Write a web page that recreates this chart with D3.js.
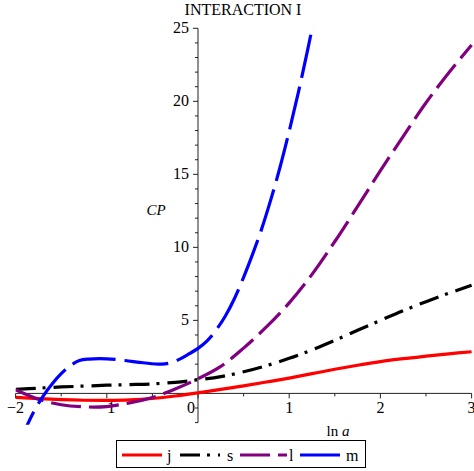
<!DOCTYPE html>
<html><head><meta charset="utf-8">
<script src="https://cdn.jsdelivr.net/npm/d3@7"></script>
<style>body{margin:0;background:#fff}svg{display:block}</style>
</head><body>
<script>
// ---- data ----
const title = "INTERACTION I";
const xs = [-2,-1.75,-1.5,-1.25,-1,-0.75,-0.5,-0.25,0,0.25,0.5,0.75,1,1.25,1.5,1.75,2,2.25,2.5,2.75,3];
const jVals = [-0.27,-0.36,-0.43,-0.47,-0.48,-0.45,-0.35,-0.18,0.04,0.27,0.52,0.78,1.05,1.35,1.65,1.93,2.18,2.38,2.55,2.71,2.85];
const sVals = [0.27,0.36,0.44,0.5,0.56,0.6,0.65,0.76,0.93,1.15,1.48,1.9,2.4,2.98,3.63,4.32,5.0,5.66,6.28,6.86,7.4];
const lVals = [0.25,-0.4,-0.78,-0.92,-0.9,-0.65,-0.28,0.3,1.0,1.85,3.1,4.55,6.2,8.15,10.4,12.8,15.25,17.6,19.9,21.95,23.85];
const mX = [-2,-1.9,-1.8,-1.7,-1.6,-1.5,-1.4,-1.3,-1.2,-1.0,-0.8,-0.6,-0.4,-0.3,-0.2,-0.1,0,0.1,0.2,0.3,0.4,0.5,0.6,0.7,0.8,0.9,1.0,1.1,1.2,1.3];
const mVals = [-4.0,-2.55,-1.25,-0.2,0.65,1.35,1.9,2.25,2.35,2.37,2.25,2.1,2.0,2.1,2.35,2.7,3.08,3.6,4.35,5.3,6.5,7.95,9.55,11.3,13.3,15.5,17.95,20.6,23.45,26.5];
const xTicks = [-2,-1,0,1,2,3];
const yTicks = [5,10,15,20,25];
const legendNames = ["j","s","l","m"];
const colors = ["#ff0000","#000000","#800080","#0000ff"];
const dashes = [null,"20,7,3,8","30,8","44,9"];

const W = 474, H = 471;
const FONT = "'Liberation Serif','Times New Roman',serif";
const svg = d3.select("body").append("svg").attr("width",W).attr("height",H);
const x = d3.scaleLinear().domain([-2,3]).range([15.6,471.6]);
const y = d3.scaleLinear().domain([-2,25]).range([422.6,28.3]);

// clip
svg.append("clipPath").attr("id","clip").append("rect")
  .attr("x",x(-2)).attr("y",y(25.15)).attr("width",x(3)-x(-2)+2).attr("height",y(-2.15)-y(25.15));

// axes
const axisColor = "#222";
const gx = svg.append("g");
gx.append("line").attr("x1",x(-2)).attr("x2",x(3)).attr("y1",y(0)).attr("y2",y(0)).attr("stroke",axisColor);
d3.range(-2,3.01,0.5).forEach(v=>{
  const major = Math.abs(v-Math.round(v))<1e-9;
  gx.append("line").attr("x1",x(v)).attr("x2",x(v)).attr("y1",y(0)).attr("y2",y(0)+(major?5:3)).attr("stroke",axisColor);
});
xTicks.forEach(v=>{
  gx.append("text").attr("x", v===0 ? x(0)-7 : x(v)).attr("y",y(0)+20)
    .attr("text-anchor","middle").attr("font-family",FONT).attr("font-size",16)
    .text(v<0 ? "\u2212"+Math.abs(v) : String(v));
});
const gy = svg.append("g");
gy.append("line").attr("x1",x(0)).attr("x2",x(0)).attr("y1",y(-2)).attr("y2",y(25)).attr("stroke",axisColor);
d3.range(-2,25.01,1).forEach(v=>{
  if (v===0) return;
  const major = v%5===0;
  gy.append("line").attr("x1",x(0)).attr("x2",x(0)-(major?5:3)).attr("y1",y(v)).attr("y2",y(v)).attr("stroke",axisColor);
});
yTicks.forEach(v=>{
  gy.append("text").attr("x",x(0)-9).attr("y",y(v)+5).attr("text-anchor","end")
    .attr("font-family",FONT).attr("font-size",16).text(v);
});

// title and labels
svg.append("text").attr("x",243).attr("y",15).attr("text-anchor","middle")
  .attr("font-family",FONT).attr("font-size",16).text(title);
svg.append("text").attr("x",156).attr("y",215).attr("text-anchor","middle")
  .attr("font-family",FONT).attr("font-size",15).attr("font-style","italic").text("CP");
const xl = svg.append("text").attr("x",338).attr("y",436).attr("text-anchor","middle")
  .attr("font-family",FONT).attr("font-size",15);
xl.append("tspan").text("ln ");
xl.append("tspan").attr("font-style","italic").text("a");

// curves
const line = d3.line().x(d=>x(d[0])).y(d=>y(d[1])).curve(d3.curveCatmullRom.alpha(0.5));
const series = [
  xs.map((v,i)=>[v,jVals[i]]),
  xs.map((v,i)=>[v,sVals[i]]),
  xs.map((v,i)=>[v,lVals[i]]),
  mX.map((v,i)=>[v,mVals[i]])
];
const gc = svg.append("g").attr("clip-path","url(#clip)");
series.forEach((s,i)=>{
  const p = gc.append("path").attr("d",line(s)).attr("fill","none")
    .attr("stroke",colors[i]).attr("stroke-width",3.2);
  if (dashes[i]) p.attr("stroke-dasharray",dashes[i]);
});

// legend
const lg = svg.append("g");
lg.append("rect").attr("x",116.5).attr("y",440.5).attr("width",249).attr("height",27)
  .attr("fill","#fff").attr("stroke","#000");
const itemX = [122,180,240,300];
const textX = [167,227,289,346];
legendNames.forEach((n,i)=>{
  const l = lg.append("line").attr("x1",itemX[i]).attr("x2",itemX[i]+(i===2?47:40))
    .attr("y1",455).attr("y2",455).attr("stroke",colors[i]).attr("stroke-width",3.2);
  if (dashes[i]) l.attr("stroke-dasharray",dashes[i]);
  lg.append("text").attr("x",textX[i]).attr("y",461).attr("font-family",FONT)
    .attr("font-size",16).text(n);
});
</script>
</body></html>
